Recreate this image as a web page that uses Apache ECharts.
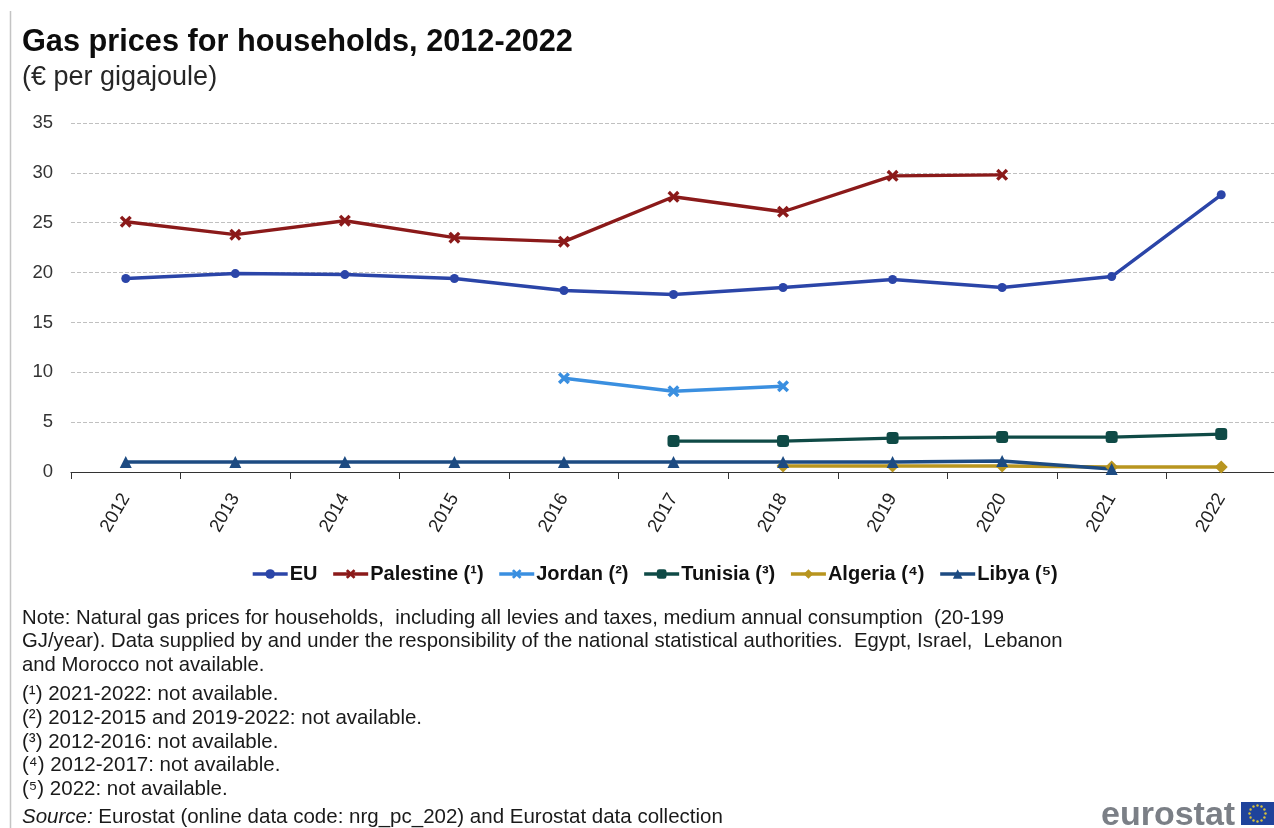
<!DOCTYPE html>
<html>
<head>
<meta charset="utf-8">
<style>html,body{margin:0;padding:0;background:#fff}#chart{width:1274px;height:828px}</style>
<script src="https://cdn.jsdelivr.net/npm/echarts@6/dist/echarts.min.js"></script>
</head>
<body>
<div id="chart"></div>
<script>
const years = ['2012','2013','2014','2015','2016','2017','2018','2019','2020','2021','2022'];
const eu = [19.4,19.9,19.8,19.4,18.2,17.8,18.5,19.3,18.5,19.6,27.8];
const palestine = [25.1,23.8,25.2,23.5,23.1,27.6,26.1,29.7,29.8,null,null];
const jordan = [null,null,null,null,9.4,8.1,8.6,null,null,null,null];
const tunisia = [null,null,null,null,null,3.1,3.1,3.4,3.5,3.5,3.8];
const algeria = [null,null,null,null,null,null,0.6,0.6,0.6,0.5,0.5];
const libya = [1.0,1.0,1.0,1.0,1.0,1.0,1.0,1.0,1.1,0.3,null];
const yTicks = [0,5,10,15,20,25,30,35];
const noteLines = [
  'Note: Natural gas prices for households,  including all levies and taxes, medium annual consumption  (20-199',
  'GJ/year). Data supplied by and under the responsibility of the national statistical authorities.  Egypt, Israel,  Lebanon',
  'and Morocco not available.'
];
const footnotes = [
  '(¹) 2021-2022: not available.',
  '(²) 2012-2015 and 2019-2022: not available.',
  '(³) 2012-2016: not available.',
  '(⁴) 2012-2017: not available.',
  '(⁵) 2022: not available.'
];

const FONT = '"Liberation Sans", Arial, sans-serif';
const CROSS = 'path://M2 0L5 3L8 0L10 2L7 5L10 8L8 10L5 7L2 10L0 8L3 5L0 2Z';

function lineSeries(name, data, color, symbol, size) {
  return {
    name, data, type: 'line', symbol, symbolSize: size, connectNulls: false,
    showSymbol: true, animation: false, z: 3,
    lineStyle: { color, width: 3.4 },
    itemStyle: { color }
  };
}

function textAt(x, y, text, style) {
  return { type: 'text', x, y, silent: true,
    style: Object.assign({ text, fill: '#1a1a1a', font: '20.5px ' + FONT, textVerticalAlign: 'middle' }, style || {}) };
}

// Twelve gold stars ring the EU flag next to the wordmark
const flagX = 1241, flagY = 802, flagW = 33, flagH = 23;
const flagStars = [];
for (let i = 0; i < 12; i++) {
  const a = i * Math.PI / 6;
  flagStars.push({ type: 'circle', silent: true,
    shape: { cx: flagX + flagW / 2 + 8 * Math.cos(a), cy: flagY + flagH / 2 + 8 * Math.sin(a), r: 1.2 },
    style: { fill: '#d8c23a' } });
}

const graphics = [
  { type: 'line', silent: true, shape: { x1: 10.5, y1: 11, x2: 10.5, y2: 828 }, style: { stroke: '#c4c4c4', lineWidth: 1.5 } },
  textAt(22, 43, 'Gas prices for households, 2012-2022', { font: 'bold 30.7px ' + FONT, fill: '#0d0d0d' }),
  textAt(22, 78, '(€ per gigajoule)', { font: '27px ' + FONT, fill: '#262626' })
];
[618, 641, 665].forEach((y, i) => graphics.push(textAt(22, y, noteLines[i], { font: '20.3px ' + FONT })));
[694, 718, 742, 765, 789].forEach((y, i) => graphics.push(textAt(22, y, footnotes[i])));
graphics.push(
  { type: 'text', silent: true, x: 22, y: 817, style: { text: '{i|Source:} Eurostat (online data code: nrg_pc_202) and Eurostat data collection',
      font: '20.5px ' + FONT, fill: '#1a1a1a', textVerticalAlign: 'middle',
      rich: { i: { font: 'italic 20.5px ' + FONT, fill: '#1a1a1a' } } } },
  textAt(1101, 816, 'eurostat', { font: 'bold 34px ' + FONT, fill: '#7b7f86' }),
  { type: 'rect', silent: true, shape: { x: flagX, y: flagY, width: flagW, height: flagH }, style: { fill: '#1f439b' } },
  ...flagStars
);

const chart = echarts.init(document.getElementById('chart'), null, { renderer: 'canvas' });
chart.setOption({
  animation: false,
  backgroundColor: '#fff',
  textStyle: { fontFamily: FONT },
  grid: { left: 71, width: 1205, top: 123, height: 349, containLabel: false, outerBoundsMode: 'none' },
  legend: {
    top: 564, left: 251, padding: 0, itemWidth: 35, itemHeight: 12, itemGap: 14,
    lineStyle: { width: 3.4 },
    textStyle: { fontFamily: FONT, fontSize: 20, fontWeight: 'bold', color: '#111', padding: [0, 0, 0, -3] },
    data: ['EU', 'Palestine (¹)', 'Jordan (²)', 'Tunisia (³)', 'Algeria (⁴)', 'Libya (⁵)']
  },
  xAxis: {
    type: 'category', data: years, boundaryGap: true,
    axisLine: { onZero: true, lineStyle: { color: '#333', width: 1.2 } },
    axisTick: { show: true, alignWithLabel: false, length: 7, lineStyle: { color: '#333', width: 1 } },
    axisLabel: { rotate: 60, fontSize: 18.5, color: '#222', margin: 23, fontFamily: FONT, interval: 0 }
  },
  yAxis: {
    type: 'value', min: yTicks[0], max: yTicks[yTicks.length - 1], interval: 5,
    axisLine: { show: false }, axisTick: { show: false },
    axisLabel: { fontSize: 18.5, color: '#333', margin: 18, fontFamily: FONT },
    splitLine: { lineStyle: { color: '#c0c0c0', type: 'dashed', width: 1 } }
  },
  series: [
    lineSeries('EU', eu, '#2b45a8', 'circle', 9),
    lineSeries('Palestine (¹)', palestine, '#8b1a1a', CROSS, 12),
    lineSeries('Jordan (²)', jordan, '#3a8fe0', CROSS, 12),
    lineSeries('Tunisia (³)', tunisia, '#0f4a46', 'roundRect', 12),
    lineSeries('Algeria (⁴)', algeria, '#b8951f', 'diamond', 13),
    lineSeries('Libya (⁵)', libya, '#1d4b82', 'triangle', 12)
  ],
  graphic: { elements: graphics }
});
</script>
</body>
</html>
